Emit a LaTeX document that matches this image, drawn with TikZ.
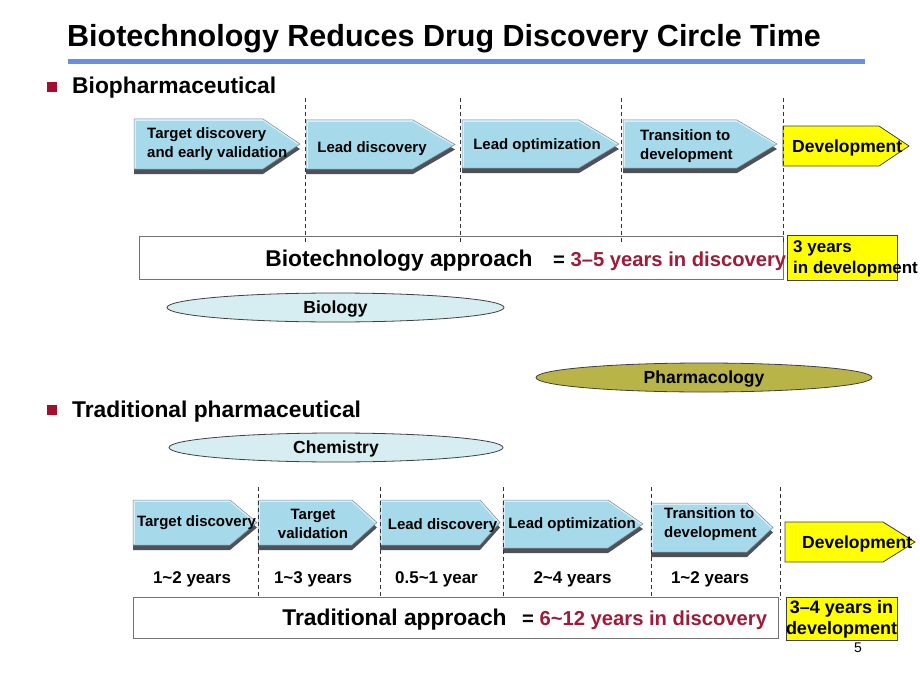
\documentclass[tikz,border=0pt]{standalone}
\usepackage{fontspec}
\setmainfont{Liberation Sans}
\usetikzlibrary{shapes.geometric}
\definecolor{arrowblue}{RGB}{166,217,234}
\definecolor{arrowtop}{RGB}{214,240,249}
\definecolor{arrowshadow}{RGB}{78,82,88}
\definecolor{arrowedge}{RGB}{120,140,150}
\definecolor{titleblue}{RGB}{108,142,224}
\definecolor{bulletred}{RGB}{165,15,45}
\definecolor{discred}{RGB}{158,28,58}
\definecolor{lightcyan}{RGB}{214,237,241}
\definecolor{olivefill}{RGB}{184,180,72}
\definecolor{devyellow}{RGB}{255,255,0}
\newcommand\tld{\textasciitilde}
\newcommand\fsz[1]{\fontsize{#1}{#1}\selectfont}
\newcommand\stagearrow[5]{%
  \fill[arrowshadow] (#1,#2+5) -- (#3-#5,#2+5) -- (#3,{(#2+#4)/2+5}) -- (#3-#5,#4+5) -- (#1,#4+5) -- cycle;
  \fill[arrowblue] (#1,#2) -- (#3-#5,#2) -- (#3,{(#2+#4)/2}) -- (#3-#5,#4) -- (#1,#4) -- cycle;
  \draw[arrowtop, line width=1.6pt] (#1+1,#4-1) -- (#1+1,#2+1) -- (#3-#5,#2+1) -- (#3-1.5,{(#2+#4)/2});
  \draw[arrowedge, line width=.5pt] (#1,#2) -- (#3-#5,#2) -- (#3,{(#2+#4)/2}) -- (#3-#5,#4) -- (#1,#4) -- cycle;
}
\newcommand\devarrow[5]{%
  \draw[fill=devyellow, draw=black!75, line width=.8pt] (#1,#2) -- (#3-#5,#2) -- (#3,{(#2+#4)/2}) -- (#3-#5,#4) -- (#1,#4) -- cycle;
}
\tikzset{
  lbl/.style={inner sep=0pt, font=\bfseries\fsz{15}},
  mlbl/.style={inner sep=0pt, font=\bfseries\fontsize{15}{19}\selectfont, align=left},
  devlbl/.style={inner sep=0pt, font=\bfseries\fsz{17.5}},
  yearlbl/.style={inner sep=0pt, font=\bfseries\fsz{17}, anchor=base},
  bullettxt/.style={inner sep=0pt, font=\bfseries\fsz{22.8}, anchor=base west},
  apptxt/.style={inner sep=0pt, font=\bfseries\fsz{22.8}, anchor=base},
  eqtxt/.style={inner sep=0pt, font=\bfseries\fsz{20.2}, anchor=base west},
  yeltxt/.style={inner sep=0pt, font=\bfseries\fontsize{18}{21}\selectfont},
  approachbox/.style={draw=black!55, line width=1pt, fill=white},
  yellowbox/.style={draw=black!75, line width=.8pt, fill=devyellow},
  field/.style={ellipse, draw=black!75, line width=.8pt, inner sep=0pt, font=\bfseries\fsz{17.5}, minimum height=29pt, text height=12.5pt, text depth=0pt},
  sep/.style={draw=black!80, line width=.8pt, dash pattern=on 4pt off 3pt},
}
\begin{document}
\begin{tikzpicture}[x=1pt,y=-1pt]
\useasboundingbox (0,0) rectangle (920,690);
\fill[white] (0,0) rectangle (920,690);
% title
\node[inner sep=0pt, anchor=base west, font=\bfseries\fsz{30.5}] (title) at (67,47) {Biotechnology Reduces Drug Discovery Circle Time};
\draw[titleblue, line width=5pt] (68,61.5) -- (865,61.5);
% section 1
\fill[bulletred] (47,82) rectangle (57,92);
\node[bullettxt] (bio) at (72,94) {Biopharmaceutical};
% top arrows
\stagearrow{134}{119}{300}{169}{37}
\stagearrow{306}{120}{455}{169}{42}
\stagearrow{462}{120}{619}{168}{40}
\stagearrow{623}{120}{777}{168}{40}
\devarrow{783}{126}{909}{166}{30}
\node[mlbl, anchor=west] (t1) at (147,144.5) {Target discovery\\and early validation};
\node[lbl, anchor=base] (t2) at (372,152) {Lead discovery};
\node[lbl, anchor=base] (t3) at (537,149) {Lead optimization};
\node[mlbl, anchor=west] (t4) at (640,146.5) {Transition to\\development};
\node[devlbl, anchor=base west] (t5) at (792,152) {Development};
% biotech box
\node[approachbox, minimum width=644pt, minimum height=43pt, anchor=north west] (biobox) at (139,236) {};
\node[apptxt] (bioapp) at (399,266.5) {Biotechnology approach};
\node[eqtxt] (bioeq) at (553,266) {= \textcolor{discred}{3–5 years in discovery}};
\node[yellowbox, minimum width=110pt, minimum height=45pt, anchor=north west] (bioyel) at (787,235) {};
\node[inner sep=0pt, font=\bfseries\fontsize{17}{21}\selectfont, anchor=west, align=left] (bioyeltxt) at (793,258.5) {3 years\\in development};
% top separators
\draw[sep] (305,98) -- (305,243);
\draw[sep] (460,98) -- (460,243);
\draw[sep] (621,98) -- (621,243);
\draw[sep] (783,98) -- (783,243);
% fields
\node[field, fill=lightcyan, minimum width=337pt] (biology) at (335.5,307.5) {Biology};
\node[field, fill=olivefill, minimum width=336pt] (pharma) at (704,377.5) {Pharmacology};
% section 2
\fill[bulletred] (47,405) rectangle (57,415);
\node[bullettxt] (trad) at (72,417.5) {Traditional pharmaceutical};
\node[field, fill=lightcyan, minimum width=334pt] (chem) at (336,447.5) {Chemistry};
% bottom arrows
\stagearrow{133}{500}{257}{545}{27}
\stagearrow{258}{500}{377}{545}{25}
\stagearrow{380}{500}{500}{545}{20}
\stagearrow{503}{500}{643}{548}{35}
\stagearrow{651}{503}{773}{552}{26}
\devarrow{785}{522}{915}{562}{32}
\node[lbl, anchor=base] (b1) at (196.5,526) {Target discovery};
\node[mlbl, align=center] (b2) at (313,523.5) {Target\\validation};
\node[lbl, anchor=base] (b3) at (442.5,529.5) {Lead discovery};
\node[lbl, anchor=base] (b4) at (572,528) {Lead optimization};
\node[mlbl, anchor=west] (b5) at (664,524.5) {Transition to\\development};
\node[devlbl, anchor=base west] (b6) at (802,548) {Development};
% years
\node[yearlbl] (y1) at (192,583.5) {1\tld2 years};
\node[yearlbl] (y2) at (313,583.5) {1\tld3 years};
\node[yearlbl] (y3) at (436.5,583.5) {0.5\tld1 year};
\node[yearlbl] (y4) at (572.5,583.5) {2\tld4 years};
\node[yearlbl] (y5) at (710,583.5) {1\tld2 years};
% bottom separators
\draw[sep] (258,487) -- (258,600);
\draw[sep] (380,487) -- (380,600);
\draw[sep] (503,487) -- (503,600);
\draw[sep] (651,487) -- (651,600);
\draw[sep] (780,487) -- (780,600);
% traditional box
\node[approachbox, minimum width=645pt, minimum height=41pt, anchor=north west] (tradbox) at (133,597) {};
\node[apptxt] (tradapp) at (394.5,625.5) {Traditional approach};
\node[eqtxt] (tradeq) at (522,625.5) {= \textcolor{discred}{6\tld12 years in discovery}};
\node[yellowbox, minimum width=111pt, minimum height=43pt, anchor=north west] (tradyel) at (786,597) {};
\node[yeltxt, align=center] (tradyeltxt) at (841.5,619.5) {3–4 years in\\development};
% page number
\node[inner sep=0pt, anchor=base, font=\fsz{14}] (pagenum) at (858,652) {5};
\end{tikzpicture}
\end{document}
